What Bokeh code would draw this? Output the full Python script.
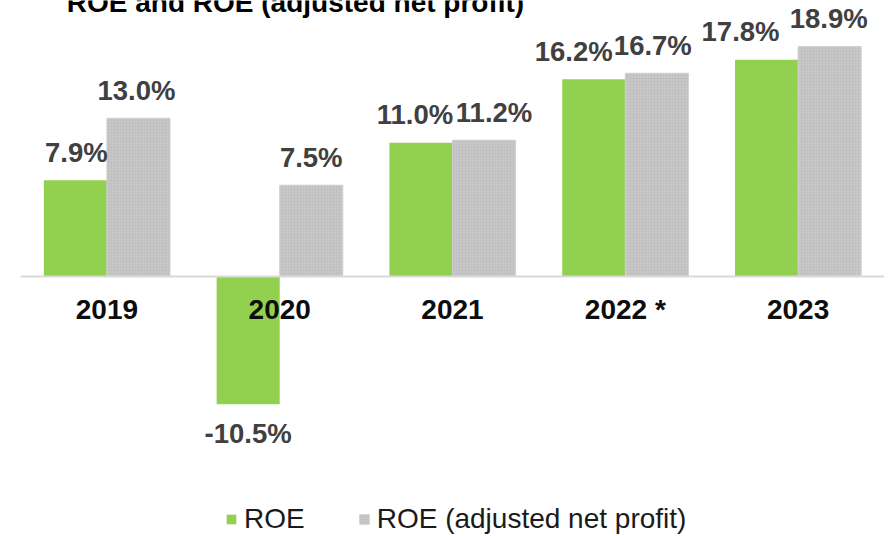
from bokeh.plotting import figure
from bokeh.models import ColumnDataSource, Range1d, Span, Label, Legend, LegendItem
from bokeh.core.properties import value
from bokeh.embed import file_html
from bokeh.resources import INLINE

# ---- data ----
years = ["2019", "2020", "2021", "2022 *", "2023"]
roe = [7.9, -10.5, 11.0, 16.2, 17.8]
roe_adj = [13.0, 7.5, 11.2, 16.7, 18.9]
series_names = ["ROE", "ROE (adjusted net profit)"]
title_text = "ROE and ROE (adjusted net profit)"

# ---- style / layout ----
roe_label_dx = [1, 0, -6, -20, -26]      # px nudges of data labels
adj_label_dx = [-2, 0, 10, -4, -1]
GREEN = "#92d050"
GREY = "#c0c0c0"
LABEL_COLOR = "#404040"
FONT_NAME = "Liberation Sans"
FONT = value(FONT_NAME)
FS = "28px"
FS_LBL = "27.5px"
W, H = 892, 536
LEFT = 20
RIGHT = 8
FRAME_W = W - LEFT - RIGHT
PX_PER_UNIT = 12.17
ZERO_PX = 276
BAR_W = 0.365
UNIT_X = FRAME_W / len(years)

p = figure(width=W, height=H, output_backend="svg", toolbar_location=None,
           x_range=Range1d(0, len(years)),
           y_range=Range1d(-(H - ZERO_PX) / PX_PER_UNIT, ZERO_PX / PX_PER_UNIT),
           x_axis_location=None, y_axis_location=None,
           min_border_left=LEFT, min_border_right=RIGHT, min_border_top=0, min_border_bottom=0)
p.outline_line_color = None
p.grid.visible = False
p.background_fill_color = "white"

xc = [i + 0.5 for i in range(len(years))]
x_roe = [x - BAR_W / 2 for x in xc]
x_adj = [x + BAR_W / 2 for x in xc]

r1 = p.vbar(x=x_roe, top=roe, bottom=0, width=BAR_W, fill_color=GREEN, line_color=None)
r2 = p.vbar(x=x_adj, top=roe_adj, bottom=0, width=BAR_W, fill_color=GREY,
            line_color="#d0d0d0", line_width=1,
            hatch_pattern="dot", hatch_color="#d6d6d6", hatch_scale=3, hatch_weight=1)

p.add_layout(Span(location=0, dimension="width", line_color="#d9d9d9", line_width=2))

def fmt(v):
    return f"{v:.1f}%"

lbl = ColumnDataSource(dict(
    x=x_roe + x_adj,
    y=roe + roe_adj,
    text=[fmt(v) for v in roe + roe_adj],
    dx=roe_label_dx + adj_label_dx,
    dy=[-28 if v >= 0 else 29 for v in roe + roe_adj],
))
p.text(x="x", y="y", text="text", x_offset="dx", y_offset="dy", source=lbl,
       text_align="center", text_baseline="alphabetic", text_font=FONT,
       text_font_style="bold", text_font_size=FS_LBL, text_color=LABEL_COLOR)

p.text(x=xc, y=[0] * len(years), text=years, y_offset=33,
       text_align="center", text_baseline="alphabetic", text_font=FONT,
       text_font_style="bold", text_font_size=FS, text_color="#0d0d0d")

p.add_layout(Label(x=275 / UNIT_X, y=(ZERO_PX - 2) / PX_PER_UNIT, text=title_text,
                   text_align="center", text_baseline="alphabetic", text_font=FONT_NAME,
                   text_font_style="bold", text_font_size=FS, text_color="black"))

legend = Legend(items=[LegendItem(label=series_names[0], renderers=[r1]),
                       LegendItem(label=series_names[1], renderers=[r2])],
                orientation="horizontal", location=(205, 1),
                glyph_width=12, glyph_height=12, label_standoff=7, spacing=53,
                padding=0, margin=0, border_line_color=None, background_fill_alpha=0,
                label_text_font=FONT_NAME, label_text_font_size=FS, label_text_color="#1a1a1a")
p.add_layout(legend)

open("out.html", "w").write(file_html(p, INLINE))
